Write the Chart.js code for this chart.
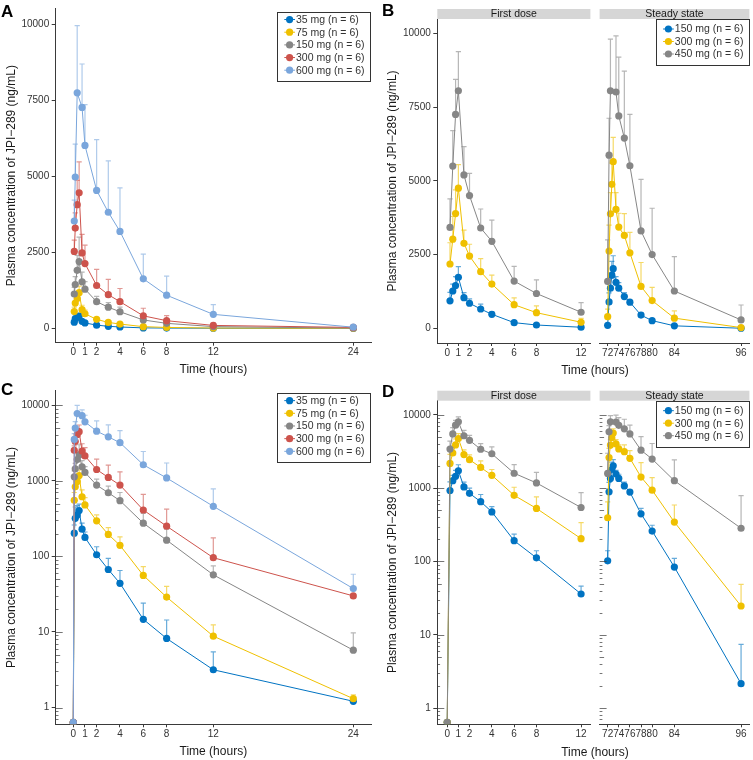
<!DOCTYPE html>
<html lang="en">
<head>
<meta charset="UTF-8">
<title>JPI-289 plasma concentration</title>
<style>
body { margin: 0; background: #fff; font-family: 'Liberation Sans', Arial, sans-serif; }
#page { position: relative; width: 753px; height: 760px; overflow: hidden; }
canvas { position: absolute; }
.tag { position: absolute; font-weight: bold; font-size: 17px; line-height: 17px; color: #000; }
.xtitle { position: absolute; font-size: 12px; line-height: 14px; color: #1a1a1a; transform: translateX(-50%); white-space: nowrap; }
</style>
</head>
<body>
<div id="page">
  <canvas id="chartA" width="376" height="380" style="left:0;top:0"></canvas>
  <canvas id="chartB1" width="212" height="380" style="left:382px;top:0"></canvas>
  <canvas id="chartB2" width="157" height="380" style="left:596px;top:0"></canvas>
  <canvas id="chartC" width="376" height="380" style="left:0;top:380px"></canvas>
  <canvas id="chartD1" width="212" height="380" style="left:382px;top:380px"></canvas>
  <canvas id="chartD2" width="157" height="380" style="left:596px;top:380px"></canvas>
  <div class="tag" style="left:1px;top:3px">A</div>
  <div class="tag" style="left:382px;top:2px">B</div>
  <div class="tag" style="left:1px;top:381px">C</div>
  <div class="tag" style="left:382px;top:383px">D</div>
  <div class="xtitle" style="left:595px;top:363px">Time (hours)</div>
  <div class="xtitle" style="left:595px;top:745px">Time (hours)</div>
</div>
<script src="https://cdn.jsdelivr.net/npm/chart.js"></script>
<script>
// single ascending dose (panels A, C)
const timesSD = [0, 0.083, 0.167, 0.333, 0.5, 0.75, 1, 2, 3, 4, 6, 8, 12, 24];
const mean35  = [0, 203, 319, 353, 403, 229, 178, 105, 67, 44, 14.7, 8.2, 3.16, 1.21];
const sd35    = [0, 57, 131, 117, 87, 46, 32, 29, 27, 21, 9.3, 6.2, 2.3, 0.09];
const mean75  = [0, 551, 834, 980, 1175, 615, 479, 295, 195, 140, 56, 28.9, 8.8, 1.31];
const sd75    = [0, 149, 216, 220, 215, 145, 121, 58, 45, 41, 17, 11.1, 3.6, 0.16];
const mean150 = [0, 1130, 1440, 1910, 2200, 1530, 1290, 877, 695, 546, 275, 164, 57, 5.74];
const sd150   = [0, 220, 260, 490, 800, 320, 250, 173, 155, 154, 95, 66, 18, 3.96];
const mean300 = [0, 2530, 3300, 4070, 4460, 2480, 2130, 1410, 1107, 877, 411, 251, 96, 30];
const sd300   = [0, 370, 500, 800, 1015, 610, 610, 530, 503, 433, 249, 170, 80, 2];
const mean600 = [0, 3530, 4980, 7750, null, 7270, 6020, 4540, 3820, 3190, 1630, 1090, 460, 37.5];
const sd600   = [0, 690, 1080, 2210, null, 1430, 1340, 1670, 1690, 1430, 810, 630, 320, 20.5];
const labelsSD = ['35 mg (n = 6)', '75 mg (n = 6)', '150 mg (n = 6)', '300 mg (n = 6)', '600 mg (n = 6)'];
const colorsSD = ['#0073C2', '#EFC000', '#868686', '#CD534C', '#7AA6DC'];

// multiple dose (panels B, D): first dose and steady state
const timesFirst  = [0, 0.25, 0.5, 0.75, 1, 1.5, 2, 3, 4, 6, 8, 12];
const first150    = [0, 930, 1265, 1450, 1730, 1040, 850, 655, 475, 192, 112, 36];
const first150Sd  = [0, 290, 235, 300, 360, 170, 150, 165, 85, 44, 28, 10];
const first300    = [0, 2180, 3020, 3890, 4750, 2880, 2450, 1920, 1500, 800, 530, 205];
const first300Sd  = [0, 720, 770, 800, 800, 450, 400, 440, 300, 230, 230, 135];
const first450    = [0, 3420, 5500, 7250, 8050, 5200, 4500, 3400, 2950, 1600, 1180, 545];
const first450Sd  = [0, 965, 1200, 1190, 1330, 960, 750, 645, 720, 500, 460, 325];
const timesSteady = [72, 72.25, 72.5, 72.75, 73, 73.5, 74, 75, 76, 78, 80, 84, 96];
const steady150   = [102, 895, 1360, 1800, 2020, 1560, 1360, 1075, 885, 447, 260, 84, 2.15];
const steady150Sd = [38, 305, 340, 470, 440, 190, 190, 135, 65, 85, 52, 26, 5.25];
const steady300   = [395, 2620, 3880, 4880, 5650, 4030, 3430, 3150, 2560, 1420, 940, 345, 24.7];
const steady300Sd = [255, 880, 720, 720, 825, 570, 470, 740, 690, 810, 450, 245, 24];
const steady450   = [1590, 5870, 8050, null, null, 8010, 7200, 6450, 5510, 3300, 2500, 1265, 284];
const steady450Sd = [1410, 1250, 1750, null, null, 1900, 1990, 2270, 1740, 1750, 1570, 1165, 506];
const labelsMD = ['150 mg (n = 6)', '300 mg (n = 6)', '450 mg (n = 6)'];
const colorsMD = ['#0073C2', '#EFC000', '#868686'];

const xTicksSD = [0, 1, 2, 4, 6, 8, 12, 24];
const xTicksFirst = [0, 1, 2, 4, 6, 8, 12];
const xTicksSteady = [72, 74, 76, 78, 80, 84, 96];
const yTicksLin = [0, 2500, 5000, 7500, 10000];
const yTicksLog = [1, 10, 100, 1000, 10000];

const Y_TITLE = 'Plasma concentration of JPI\u2212289 (ng/mL)';
const AXIS = '#3a3a3a', TEXT = '#333', TITLE = '#1a1a1a';
const DOT = 3.6;
Chart.defaults.font.family = "'Liberation Sans', Arial, sans-serif";

// pre-dose zeros: left out of the linear plots, put on the panel floor of the log plots
function series(times, means, sds, labels, colors, log, floor) {
  return means.map((m, k) => {
    const pts = [], up = [];
    times.forEach((t, i) => {
      const v = m[i];
      if (v === 0 && !log) return;
      pts.push({x: t, y: v === null ? null : (v > 0 ? v : floor)});
      up.push(v > 0 && sds[k][i] ? v + sds[k][i] : null);
    });
    return {
      label: labels[k], data: pts, upper: up,
      borderColor: colors[k], backgroundColor: colors[k],
      borderWidth: 1, pointRadius: DOT, pointBorderWidth: 0, pointHoverRadius: DOT,
      spanGaps: true, order: means.length - 1 - k
    };
  });
}

const errorBars = {
  id: 'errorBars',
  beforeDatasetsDraw(chart) {
    const {ctx, chartArea: a, scales: {x, y}} = chart;
    ctx.save();
    ctx.beginPath(); ctx.rect(a.left, a.top, a.right - a.left, a.bottom - a.top); ctx.clip();
    chart.data.datasets.forEach(ds => {
      ctx.strokeStyle = ds.borderColor + '99';
      ctx.lineWidth = 1.2;
      ds.data.forEach((p, j) => {
        const up = ds.upper[j];
        if (p.y === null || up === null) return;
        const px = x.getPixelForValue(p.x), y0 = y.getPixelForValue(p.y), y1 = y.getPixelForValue(up);
        ctx.beginPath();
        ctx.moveTo(px, y0); ctx.lineTo(px, y1);
        ctx.moveTo(px - 2.6, y1); ctx.lineTo(px + 2.6, y1);
        ctx.stroke();
      });
    });
    ctx.restore();
  }
};

const strip = {
  id: 'strip',
  afterDraw(chart, args, o) {
    if (!o.text) return;
    const {ctx, chartArea: a} = chart;
    ctx.save();
    ctx.fillStyle = '#d6d6d6';
    ctx.fillRect(a.left, a.top - 10, a.right - a.left, 10);
    ctx.fillStyle = TITLE;
    ctx.font = "10.5px 'Liberation Sans', Arial, sans-serif";
    ctx.textAlign = 'center'; ctx.textBaseline = 'middle';
    ctx.fillText(o.text, (a.left + a.right) / 2, a.top - 4.5);
    ctx.restore();
  }
};

const logTicks = {
  id: 'logTicks',
  afterDraw(chart, args, o) {
    if (!o.show) return;
    const {ctx, chartArea: a, scales: {y}} = chart;
    ctx.save();
    ctx.strokeStyle = AXIS; ctx.lineWidth = 0.7;
    for (let k = -1; k <= 5; k++) {
      for (let m = 1; m <= 9; m++) {
        const v = m * Math.pow(10, k);
        if (v < y.min || v > y.max) continue;
        const py = Math.round(y.getPixelForValue(v)) + 0.5;
        const len = m === 1 ? 7 : (m === 5 ? 4.5 : 2.8);
        ctx.beginPath(); ctx.moveTo(a.left, py); ctx.lineTo(a.left + len, py); ctx.stroke();
      }
    }
    ctx.restore();
  }
};

const boxLegend = {
  id: 'boxLegend',
  afterDatasetsDraw(chart, args, o) {
    if (!o.show) return;
    const {ctx, chartArea: a} = chart;
    const ds = chart.data.datasets;
    const x0 = a.right - o.dx - o.w, y0 = a.top + o.dy;
    const h = o.padTop + o.padBottom + o.rowH * ds.length;
    ctx.save();
    ctx.fillStyle = '#fff';
    ctx.fillRect(x0, y0, o.w, h);
    ctx.strokeStyle = '#333'; ctx.lineWidth = 1;
    ctx.strokeRect(Math.round(x0) + 0.5, Math.round(y0) + 0.5, Math.round(o.w), Math.round(h));
    ctx.font = "10.5px 'Liberation Sans', Arial, sans-serif";
    ctx.textBaseline = 'middle'; ctx.textAlign = 'left';
    ds.forEach((d, i) => {
      const cy = y0 + o.padTop + o.rowH * (i + 0.5);
      ctx.strokeStyle = d.borderColor; ctx.lineWidth = 1;
      ctx.beginPath(); ctx.moveTo(x0 + 7.3, cy); ctx.lineTo(x0 + 18, cy); ctx.stroke();
      ctx.fillStyle = d.borderColor;
      ctx.beginPath(); ctx.arc(x0 + 12.6, cy, DOT, 0, Math.PI * 2); ctx.fill();
      ctx.fillStyle = TEXT;
      ctx.fillText(d.label, x0 + 19, cy + 0.5);
    });
    ctx.restore();
  }
};

function panel(id, o) {
  return new Chart(document.getElementById(id), {
    type: 'line',
    data: {datasets: o.datasets},
    options: {
      responsive: false, animation: false, devicePixelRatio: 1,
      events: [],
      layout: {padding: {top: o.top, right: o.right, bottom: 0, left: o.left || 0}},
      scales: {
        x: {
          type: 'linear', min: o.xMin, max: o.xMax,
          afterFit: s => { s.height = o.xHeight; },
          afterBuildTicks: s => { s.ticks = o.xTicks.map(v => ({value: v})); },
          ticks: {autoSkip: false, maxRotation: 0, minRotation: 0, padding: 1,
                  font: {size: 10}, color: TEXT, callback: v => String(v)},
          grid: {display: true, drawOnChartArea: false, drawTicks: true, tickLength: 3, color: AXIS},
          border: {display: true, color: AXIS, width: 1},
          title: {display: !!o.xTitle, text: o.xTitle, font: {size: 12}, color: TITLE,
                  padding: {top: 0, bottom: o.xTitlePad || 0}}
        },
        y: {
          type: o.log ? 'logarithmic' : 'linear', min: o.yMin, max: o.yMax,
          display: o.showY,
          afterFit: s => { s.width = o.yWidth; },
          afterBuildTicks: s => { s.ticks = o.yTicks.map(v => ({value: v})); },
          ticks: {padding: 2.5, font: {size: 10}, color: TEXT, callback: v => String(v)},
          grid: {display: true, drawOnChartArea: false, drawTicks: true, tickLength: 4, color: AXIS},
          border: {display: true, color: AXIS, width: 1},
          title: {display: true, text: Y_TITLE, font: {size: 12}, color: TITLE,
                  padding: {top: o.yTitlePad || 4, bottom: 0}}
        }
      },
      plugins: {
        legend: {display: false},
        tooltip: {enabled: false},
        strip: {text: o.strip || ''},
        logTicks: {show: !!o.logTicks},
        boxLegend: o.legend || {show: false}
      }
    },
    plugins: [errorBars, strip, logTicks, boxLegend]
  });
}

const meansSD = [mean35, mean75, mean150, mean300, mean600];
const sdsSD = [sd35, sd75, sd150, sd300, sd600];
const meansFirst = [first150, first300, first450];
const sdsFirst = [first150Sd, first300Sd, first450Sd];
const meansSteady = [steady150, steady300, steady450];
const sdsSteady = [steady150Sd, steady300Sd, steady450Sd];

const LOG_C = [0.635, 15560];
const LOG_D = [0.64, 15630];

// A: linear, single dose
panel('chartA', {
  datasets: series(timesSD, meansSD, sdsSD, labelsSD, colorsSD, false),
  top: 8, right: 5, xHeight: 37.3, yWidth: 55.7, xTitle: 'Time (hours)', xTitlePad: 3,
  xMin: -1.509, xMax: 25.517, xTicks: xTicksSD,
  yMin: -473, yMax: 10526, yTicks: yTicksLin, showY: true, yTitlePad: 4,
  legend: {show: true, w: 93, dx: 1, dy: 3.7, rowH: 12.67, padTop: 1, padBottom: 5}
});

// C: log, single dose
panel('chartC', {
  datasets: series(timesSD, meansSD, sdsSD, labelsSD, colorsSD, true, LOG_C[0]),
  top: 10.7, right: 5, xHeight: 35.7, yWidth: 55.7, xTitle: 'Time (hours)', xTitlePad: 1.1,
  xMin: -1.509, xMax: 25.517, xTicks: xTicksSD,
  log: true, yMin: LOG_C[0], yMax: LOG_C[1], yTicks: yTicksLog, showY: true, yTitlePad: 4, logTicks: true,
  legend: {show: true, w: 93, dx: 1, dy: 2.6, rowH: 12.67, padTop: 1, padBottom: 5}
});

// B: linear, multiple dose
panel('chartB1', {
  datasets: series(timesFirst, meansFirst, sdsFirst, labelsMD, colorsMD, false),
  top: 19, right: 2.3, xHeight: 37, yWidth: 55.3,
  xMin: -0.889, xMax: 12.836, xTicks: xTicksFirst,
  yMin: -498, yMax: 10485, yTicks: yTicksLin, showY: true, yTitlePad: 3.3, strip: 'First dose'
});
panel('chartB2', {
  datasets: series(timesSteady, meansSteady, sdsSteady, labelsMD, colorsMD, false),
  top: 19, right: 0.7, left: 2, xHeight: 37, yWidth: 0,
  xMin: 70.55, xMax: 97.5, xTicks: xTicksSteady,
  yMin: -498, yMax: 10485, yTicks: yTicksLin, showY: false, strip: 'Steady state',
  legend: {show: true, w: 93, dx: 0.6, dy: 0, rowH: 12.5, padTop: 3.75, padBottom: 5}
});

// D: log, multiple dose
panel('chartD1', {
  datasets: series(timesFirst, meansFirst, sdsFirst, labelsMD, colorsMD, true, LOG_D[0]),
  top: 20.7, right: 2.3, xHeight: 35.7, yWidth: 55.3,
  xMin: -0.889, xMax: 12.836, xTicks: xTicksFirst,
  log: true, yMin: LOG_D[0], yMax: LOG_D[1], yTicks: yTicksLog, showY: true, yTitlePad: 3.3,
  logTicks: true, strip: 'First dose'
});
panel('chartD2', {
  datasets: series(timesSteady, meansSteady, sdsSteady, labelsMD, colorsMD, true, LOG_D[0]),
  top: 20.7, right: 0.7, left: 2, xHeight: 35.7, yWidth: 0,
  xMin: 70.55, xMax: 97.5, xTicks: xTicksSteady,
  log: true, yMin: LOG_D[0], yMax: LOG_D[1], yTicks: yTicksLog, showY: false,
  logTicks: true, strip: 'Steady state',
  legend: {show: true, w: 93, dx: 0.6, dy: 0, rowH: 12.5, padTop: 3.75, padBottom: 5}
});
</script>
</body>
</html>
